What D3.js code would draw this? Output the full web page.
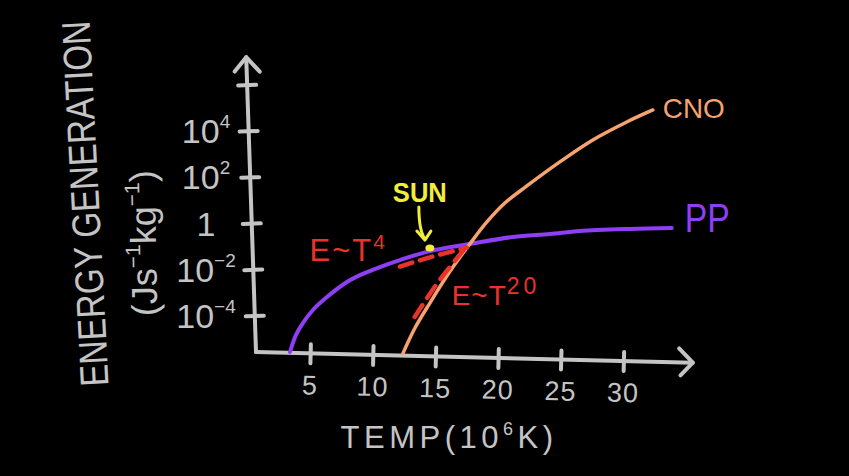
<!DOCTYPE html>
<html>
<head>
<meta charset="utf-8">
<script src="https://cdn.jsdelivr.net/npm/d3@7"></script>
<style>
  html, body { margin: 0; padding: 0; background: #000; }
  svg { display: block; }
  text { font-family: "Liberation Sans", "DejaVu Sans", sans-serif; }
</style>
</head>
<body>
<svg id="chart" width="849" height="476"></svg>
<script>
// ---- data (temperature in 10^6 K, energy generation as log10 J s^-1 kg^-1) ----
const ppT      = [3.35, 3.83, 4.39, 5.18, 6.30, 7.89, 8.93, 10.53, 12.12, 14.51, 17.70, 21.13, 24.08, 26.48, 30.46, 33.81];
const ppLogE   = [-5.56, -4.82, -4.30, -3.74, -3.18, -2.53, -2.23, -1.88, -1.58, -1.19, -0.88, -0.58, -0.45, -0.32, -0.23, -0.19];
const cnoT     = [12.36, 13.32, 14.51, 15.71, 16.75, 17.70, 19.06, 20.49, 22.25, 24.88, 27.51, 30.22, 32.30];
const cnoLogE  = [-5.62, -4.52, -3.44, -2.40, -1.58, -0.88, 0.07, 0.89, 1.63, 2.67, 3.62, 4.40, 4.92];
const fitT4T   = [12.12, 14.51, 17.46];
const fitT4LogE  = [-1.86, -1.46, -1.04];
const fitT20T  = [13.30, 15.12, 17.40];
const fitT20LogE = [-4.04, -2.57, -1.01];
const sunT = 14.51, sunLogE = -1.06;
const xTicks = [5, 10, 15, 20, 25, 30];
const xTickLabels = ["5", "10", "15", "20", "25", "30"];
const yTicks = [-4, -2, 0, 2, 4, 6];
const yTickBase = ["10", "10", "1", "10", "10", ""];
const yTickSup  = ["\u22124", "\u22122", "", "2", "4", ""];

// ---- styles ----
const GRAY = "#c4c4c4", PURPLE = "#8e3ef5", ORANGE = "#f6a36e", RED = "#e8332b", YELLOW = "#f0ee3c";

const svg = d3.select("#chart");
svg.append("rect").attr("width", 849).attr("height", 476).attr("fill", "#000");

const x = d3.scaleLinear().domain([0, 30]).range([248, 624]);
const y = d3.scaleLinear().domain([-4, 6]).range([316, 85]);
const x0 = 256, yBottom = y(-5.56), xEnd = x(35.5), yTop = 57;

// ---- y axis (slightly leaning, hand drawn) ----
const gy = svg.append("g").attr("transform", `rotate(-1.9, ${x0}, ${yBottom})`)
  .attr("stroke", GRAY).attr("stroke-width", 4).attr("stroke-linecap", "round").attr("fill", "none");
gy.append("line").attr("x1", x0).attr("y1", yBottom).attr("x2", x0).attr("y2", yTop);
gy.append("path").attr("d", `M${x0 - 12},${yTop + 14} L${x0},${yTop} L${x0 + 13},${yTop + 15}`).attr("stroke-linejoin", "round");
gy.selectAll("line.tick").data(yTicks).join("line").attr("class", "tick")
  .attr("x1", x0 - 9).attr("x2", x0 + 9).attr("y1", d => y(d)).attr("y2", d => y(d));

// y tick labels
const yl = svg.append("g").attr("fill", GRAY);
yTicks.forEach((v, i) => {
  const t = yl.append("text").attr("x", 206).attr("y", y(v) + 12)
    .attr("text-anchor", "middle").attr("font-size", 34);
  t.append("tspan").text(yTickBase[i]);
  if (yTickSup[i]) t.append("tspan").attr("font-size", 19).attr("dy", -15).text(yTickSup[i]);
});

// ---- x axis (slightly drooping) ----
const gx = svg.append("g").attr("transform", `rotate(1.4, ${x0}, ${yBottom})`);
const gxl = gx.append("g").attr("stroke", GRAY).attr("stroke-width", 4).attr("stroke-linecap", "round").attr("fill", "none");
gxl.append("line").attr("x1", x0).attr("y1", yBottom).attr("x2", xEnd).attr("y2", yBottom);
gxl.append("path").attr("d", `M${xEnd - 14},${yBottom - 14} L${xEnd},${yBottom} L${xEnd - 12},${yBottom + 13}`).attr("stroke-linejoin", "round");
gxl.selectAll("line.tick").data(xTicks).join("line").attr("class", "tick")
  .attr("x1", d => x(d)).attr("x2", d => x(d)).attr("y1", yBottom - 9).attr("y2", yBottom + 10);
gx.selectAll("text.xt").data(xTicks).join("text").attr("class", "xt")
  .attr("x", d => x(d)).attr("y", yBottom + 41).attr("text-anchor", "middle")
  .attr("font-size", 27).attr("fill", GRAY).attr("letter-spacing", 1)
  .text((d, i) => xTickLabels[i]);

// ---- axis titles ----
const xt = svg.append("text").attr("x", 449).attr("y", 448).attr("text-anchor", "middle")
  .attr("font-size", 31).attr("fill", GRAY).attr("letter-spacing", 4.5);
xt.append("tspan").text("TEMP(10");
xt.append("tspan").attr("font-size", 18).attr("dy", -13).text("6");
xt.append("tspan").attr("dy", 13).text("K)");

svg.append("text").attr("transform", "translate(99,203) rotate(-93)")
  .attr("text-anchor", "middle").attr("font-size", 40).attr("fill", GRAY)
  .attr("textLength", 366).attr("lengthAdjust", "spacingAndGlyphs")
  .text("ENERGY GENERATION");

const yt2 = svg.append("text").attr("transform", "translate(156,243) rotate(-91)")
  .attr("text-anchor", "middle").attr("font-size", 36).attr("fill", GRAY);
yt2.append("tspan").text("(Js");
yt2.append("tspan").attr("font-size", 21).attr("dy", -16).text("\u22121");
yt2.append("tspan").attr("dy", 16).text("kg");
yt2.append("tspan").attr("font-size", 21).attr("dy", -16).text("\u22121");
yt2.append("tspan").attr("dy", 16).text(")");

// ---- curves ----
const line = d3.line().x(d => x(d[0])).y(d => y(d[1])).curve(d3.curveCatmullRom.alpha(0.5));
const ppData = ppT.map((t, i) => [t, ppLogE[i]]);
const cnoData = cnoT.map((t, i) => [t, cnoLogE[i]]);
const fit4 = fitT4T.map((t, i) => [t, fitT4LogE[i]]);
const fit20 = fitT20T.map((t, i) => [t, fitT20LogE[i]]);

svg.append("path").datum(ppData).attr("d", line).attr("fill", "none")
  .attr("stroke", PURPLE).attr("stroke-width", 4).attr("stroke-linecap", "round");
svg.append("path").datum(cnoData).attr("d", line).attr("fill", "none")
  .attr("stroke", ORANGE).attr("stroke-width", 3.5).attr("stroke-linecap", "round");

svg.append("path").datum(fit4).attr("d", line).attr("fill", "none")
  .attr("stroke", RED).attr("stroke-width", 4.5).attr("stroke-dasharray", "13 8").attr("stroke-linecap", "round");
svg.append("path").datum(fit20).attr("d", line).attr("fill", "none")
  .attr("stroke", RED).attr("stroke-width", 4.5).attr("stroke-dasharray", "14 9").attr("stroke-linecap", "round");

// ---- labels ----
const ppEnd = ppData[ppData.length - 1], cnoEnd = cnoData[cnoData.length - 1];
svg.append("text").attr("x", x(cnoEnd[0]) + 10).attr("y", y(cnoEnd[1]) + 8)
  .attr("font-size", 28).attr("fill", ORANGE).attr("textLength", 62).attr("lengthAdjust", "spacingAndGlyphs").text("CNO");
svg.append("text").attr("x", x(ppEnd[0]) + 13).attr("y", y(ppEnd[1]) + 4)
  .attr("font-size", 40).attr("fill", PURPLE).attr("textLength", 45).attr("lengthAdjust", "spacingAndGlyphs").text("PP");

const t4 = svg.append("text").attr("x", x(fit4[0][0]) - 15).attr("y", y(fit4[0][1]) - 6)
  .attr("text-anchor", "end").attr("font-size", 31).attr("fill", RED).attr("letter-spacing", 2);
t4.append("tspan").text("E~T");
t4.append("tspan").attr("font-size", 21).attr("dy", -12).attr("letter-spacing", 0).text("4");

const t20 = svg.append("text").attr("x", x(fit20[0][0]) + 37).attr("y", y(fit20[0][1]) - 12)
  .attr("font-size", 28).attr("fill", RED).attr("letter-spacing", 1);
t20.append("tspan").text("E~T");
t20.append("tspan").attr("font-size", 23).attr("dy", -11).attr("letter-spacing", 4).text("20");

// ---- Sun marker ----
const sx = x(sunT), sy = y(sunLogE);
svg.append("text").attr("x", sx - 10).attr("y", sy - 46).attr("text-anchor", "middle")
  .attr("font-size", 28).attr("font-weight", "bold").attr("fill", YELLOW)
  .attr("textLength", 54).attr("lengthAdjust", "spacingAndGlyphs").text("SUN");
const ga = svg.append("g").attr("stroke", YELLOW).attr("stroke-width", 3).attr("fill", "none")
  .attr("stroke-linecap", "round").attr("stroke-linejoin", "round");
ga.append("path").attr("d", `M${sx - 11},${sy - 41} Q${sx - 11},${sy - 18} ${sx - 5},${sy - 9}`);
ga.append("path").attr("d", `M${sx - 13},${sy - 17} L${sx - 5},${sy - 8} L${sx + 1},${sy - 17}`);
svg.append("ellipse").attr("cx", sx).attr("cy", sy).attr("rx", 4.5).attr("ry", 3.5).attr("fill", YELLOW);
</script>
</body>
</html>
